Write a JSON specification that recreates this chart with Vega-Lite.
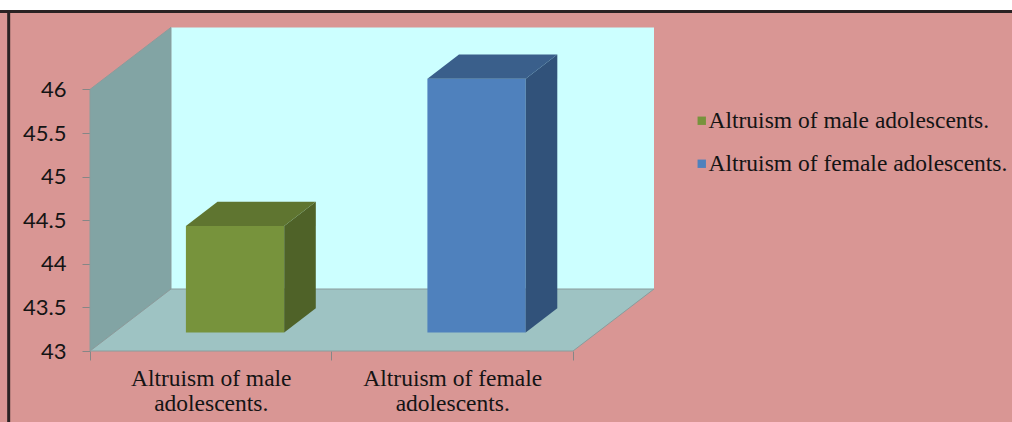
{
  "$schema": "https://vega.github.io/schema/vega-lite/v6.json",
  "width": 1012,
  "height": 412,
  "autosize": {"type": "none"},
  "padding": {"left": 0, "top": 10, "right": 0, "bottom": 0},
  "background": "#FFFFFF",
  "config": {
    "view": {"fill": "#D99694", "stroke": null},
    "font": "Liberation Serif",
    "legend": {
      "orient": "none",
      "legendX": 690,
      "legendY": 99,
      "title": null,
      "symbolType": "square",
      "symbolSize": 70,
      "symbolStrokeWidth": 0,
      "labelFont": "Liberation Serif",
      "labelFontSize": 23.5,
      "labelColor": "#141414",
      "labelOffset": -5,
      "rowPadding": 18,
      "labelLimit": 400
    }
  },
  "data": {
    "values": [
      {"group": "Altruism of male adolescents.", "i": 0, "value": 44.22},
      {"group": "Altruism of female adolescents.", "i": 1, "value": 45.91}
    ]
  },
  "resolve": {"scale": {"color": "independent"}},
  "layer": [
    {
      "transform": [{"filter": "datum.i == 0"}],
      "mark": {"type": "rect", "fill": "#CCFFFF"},
      "encoding": {
        "x": {"datum": 0.3354, "type": "quantitative", "scale": {"domain": [-0.37267, 3.81781], "nice": false, "zero": false}, "title": null},
        "x2": {"datum": 2.3354},
        "y": {"datum": 43.711, "type": "quantitative", "scale": {"domain": [42.1858, 46.9106], "nice": false, "zero": false}, "title": null},
        "y2": {"datum": 46.711}
      }
    },
    {
      "transform": [
        {"filter": "datum.i == 0"},
        {"calculate": "[0, 1]", "as": "f"},
        {"flatten": ["f"]},
        {"calculate": "datum.f * 0.3354", "as": "wx"},
        {"calculate": "46 + datum.f * 0.711", "as": "wy"},
        {"calculate": "43 + datum.f * 0.711", "as": "wy2"}
      ],
      "mark": {"type": "area", "orient": "vertical", "fill": "#82A4A4", "stroke": "#8A9C9C", "strokeWidth": 1},
      "encoding": {
        "x": {"field": "wx", "type": "quantitative", "title": null},
        "y": {"field": "wy", "type": "quantitative", "title": null},
        "y2": {"field": "wy2"}
      }
    },
    {
      "transform": [
        {"filter": "datum.i == 0"},
        {"calculate": "[0, 1]", "as": "f"},
        {"flatten": ["f"]},
        {"calculate": "43 + datum.f * 0.711", "as": "fy"},
        {"calculate": "datum.f * 0.3354", "as": "fx"},
        {"calculate": "2 + datum.f * 0.3354", "as": "fx2"}
      ],
      "mark": {"type": "area", "orient": "horizontal", "fill": "#9EC3C3", "stroke": "#8A9C9C", "strokeWidth": 1},
      "encoding": {
        "y": {"field": "fy", "type": "quantitative", "title": null},
        "x": {"field": "fx", "type": "quantitative", "title": null},
        "x2": {"field": "fx2"}
      }
    },
    {
      "transform": [
        {"calculate": "datum.i + 0.2965 + 0.30 * 0.3354", "as": "bx"},
        {"calculate": "datum.i + 0.7035 + 0.30 * 0.3354", "as": "bx2"},
        {"calculate": "43 + 0.30 * 0.711", "as": "by"},
        {"calculate": "datum.value + 0.30 * 0.711", "as": "by2"}
      ],
      "mark": {"type": "rect"},
      "encoding": {
        "x": {
          "field": "bx", "type": "quantitative", "title": null,
          "scale": {"domain": [-0.37267, 3.81781], "nice": false, "zero": false},
          "axis": {
            "orient": "bottom",
            "offset": -71,
            "values": [0, 0.5, 1, 1.5, 2],
            "domain": false,
            "grid": false,
            "tickSize": 9,
            "tickWidth": 1,
            "tickColor": {"condition": {"test": "datum.value % 1 == 0", "value": "#868686"}, "value": "transparent"},
            "labelExpr": "datum.value == 0.5 ? ['Altruism of male', 'adolescents.'] : datum.value == 1.5 ? ['Altruism of female', 'adolescents.'] : ''",
            "labelFont": "Liberation Serif",
            "labelFontSize": 23.5,
            "labelColor": "#141414",
            "labelLineHeight": 25,
            "labelPadding": 6,
            "labelOverlap": false,
            "labelFlush": false,
            "labelBound": false,
            "title": null
          }
        },
        "x2": {"field": "bx2"},
        "y": {
          "field": "by", "type": "quantitative", "title": null,
          "scale": {"domain": [42.1858, 46.9106], "nice": false, "zero": false},
          "axis": {
            "orient": "left",
            "offset": -90,
            "values": [43, 43.5, 44, 44.5, 45, 45.5, 46],
            "format": "~g",
            "domain": false,
            "grid": false,
            "tickSize": 8,
            "tickColor": "#868686",
            "labelFont": "Lato",
            "labelFontSize": 22,
            "labelColor": "#141414",
            "labelPadding": 16,
            "title": null
          }
        },
        "y2": {"field": "by2"},
        "color": {
          "field": "group", "type": "nominal",
          "scale": {"domain": ["Altruism of male adolescents.", "Altruism of female adolescents."], "range": ["#77933C", "#4F81BD"]},
          "legend": {}
        }
      }
    },
    {
      "transform": [
        {"calculate": "[0.30, 0.69]", "as": "f"},
        {"flatten": ["f"]},
        {"calculate": "datum.i + 0.7035 + datum.f * 0.3354", "as": "sx"},
        {"calculate": "datum.value + datum.f * 0.711", "as": "sy"},
        {"calculate": "43 + datum.f * 0.711", "as": "sy2"}
      ],
      "mark": {"type": "area", "orient": "vertical"},
      "encoding": {
        "x": {"field": "sx", "type": "quantitative", "title": null},
        "y": {"field": "sy", "type": "quantitative", "title": null},
        "y2": {"field": "sy2"},
        "color": {
          "field": "group", "type": "nominal",
          "scale": {"domain": ["Altruism of male adolescents.", "Altruism of female adolescents."], "range": ["#4F6228", "#31527A"]},
          "legend": null
        }
      }
    },
    {
      "transform": [
        {"calculate": "[0.30, 0.69]", "as": "f"},
        {"flatten": ["f"]},
        {"calculate": "datum.i + 0.2965 + datum.f * 0.3354", "as": "tx"},
        {"calculate": "datum.i + 0.7035 + datum.f * 0.3354", "as": "tx2"},
        {"calculate": "datum.value + datum.f * 0.711", "as": "ty"}
      ],
      "mark": {"type": "area", "orient": "horizontal"},
      "encoding": {
        "y": {"field": "ty", "type": "quantitative", "title": null},
        "x": {"field": "tx", "type": "quantitative", "title": null},
        "x2": {"field": "tx2"},
        "color": {
          "field": "group", "type": "nominal",
          "scale": {"domain": ["Altruism of male adolescents.", "Altruism of female adolescents."], "range": ["#5F7530", "#3A5F8B"]},
          "legend": null
        }
      }
    },
    {
      "transform": [{"filter": "datum.i == 0"}],
      "mark": {"type": "rule", "color": "#2A2223", "strokeWidth": 3},
      "encoding": {
        "y": {"datum": 46.8935, "type": "quantitative"}
      }
    },
    {
      "transform": [{"filter": "datum.i == 0"}],
      "mark": {"type": "rule", "color": "#2A2223", "strokeWidth": 3},
      "encoding": {
        "x": {"datum": -0.3367, "type": "quantitative"}
      }
    }
  ]
}
